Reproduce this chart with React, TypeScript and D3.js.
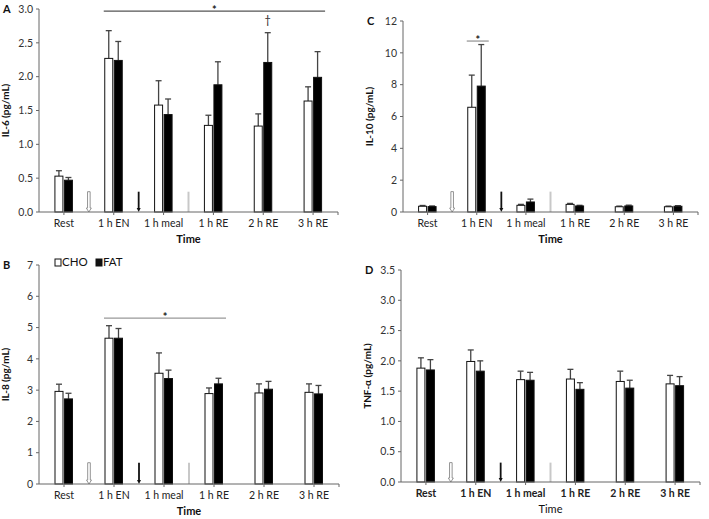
import React from "react";
import * as d3 from "d3";

const categories = ["Rest", "1 h EN", "1 h meal", "1 h RE", "2 h RE", "3 h RE"];

const il6Cho = [0.53, 2.27, 1.58, 1.28, 1.27, 1.64];
const il6ChoErr = [0.08, 0.41, 0.36, 0.15, 0.18, 0.21];
const il6Fat = [0.47, 2.24, 1.44, 1.88, 2.21, 1.99];
const il6FatErr = [0.04, 0.28, 0.23, 0.34, 0.44, 0.38];

const il8Cho = [2.96, 4.66, 3.54, 2.89, 2.91, 2.93];
const il8ChoErr = [0.23, 0.4, 0.65, 0.18, 0.29, 0.27];
const il8Fat = [2.72, 4.66, 3.37, 3.2, 3.03, 2.88];
const il8FatErr = [0.18, 0.31, 0.27, 0.18, 0.25, 0.27];

const il10Cho = [0.36, 6.58, 0.42, 0.48, 0.33, 0.33];
const il10ChoErr = [0.05, 2.02, 0.06, 0.06, 0.04, 0.04];
const il10Fat = [0.34, 7.91, 0.63, 0.38, 0.38, 0.36];
const il10FatErr = [0.04, 2.61, 0.18, 0.04, 0.05, 0.04];

const tnfCho = [1.88, 1.99, 1.69, 1.7, 1.66, 1.62];
const tnfChoErr = [0.17, 0.19, 0.14, 0.16, 0.17, 0.14];
const tnfFat = [1.85, 1.83, 1.68, 1.53, 1.55, 1.59];
const tnfFatErr = [0.17, 0.17, 0.13, 0.11, 0.13, 0.15];

const ticksA = [0, 0.5, 1, 1.5, 2, 2.5, 3];
const ticksB = [0, 1, 2, 3, 4, 5, 6, 7];
const ticksC = [0, 2, 4, 6, 8, 10, 12];
const ticksD = [0, 0.5, 1, 1.5, 2, 2.5, 3, 3.5];

const arrowKinds = ["white", "black", "gray"];
const arrowHeightA = 0.3;
const arrowHeightB = 0.68;
const arrowHeightC = 1.28;
const arrowHeightD = 0.32;

const FONT = "Lato, 'Open Sans', sans-serif";

type Sig = { from: number; to: number; value: number; color: string; label: string };

type PanelProps = {
  letter: string;
  left: number;
  right: number;
  top: number;
  bottom: number;
  ticks: number[];
  fmt: (v: number) => string;
  yTitle: string;
  cho: number[];
  choErr: number[];
  fat: number[];
  fatErr: number[];
  arrowH: number;
  boldX?: boolean;
  boldTime?: boolean;
  sig?: Sig;
  dagger?: { idx: number; value: number };
  legend?: boolean;
};

function Panel(p: PanelProps) {
  const yMax = p.ticks[p.ticks.length - 1];
  const y = d3.scaleLinear().domain([0, yMax]).range([p.bottom, p.top]);
  const x = d3.scaleBand<string>().domain(categories).range([p.left, p.right]);
  const bw = x.bandwidth();
  const center = (c: string) => (x(c) as number) + bw / 2;
  const barW = 8;
  const axisColor = "#666";
  const errColor = "#444";
  const midY = (p.top + p.bottom) / 2;

  const bars: React.ReactNode[] = [];
  categories.forEach((c, i) => {
    const cx = center(c);
    const series = [
      { v: p.cho[i], e: p.choErr[i], fill: "#fff", x0: cx - barW - 1 },
      { v: p.fat[i], e: p.fatErr[i], fill: "#000", x0: cx + 0.5 },
    ];
    series.forEach((s, j) => {
      const bx = s.x0 + barW / 2;
      bars.push(
        <g key={`${c}-${j}`}>
          <line x1={bx} x2={bx} y1={y(s.v)} y2={y(s.v + s.e)} stroke={errColor} strokeWidth={1.3} />
          <line x1={bx - 3} x2={bx + 3} y1={y(s.v + s.e)} y2={y(s.v + s.e)} stroke={errColor} strokeWidth={1.3} />
          <rect x={s.x0} y={y(s.v)} width={barW} height={y(0) - y(s.v)} fill={s.fill} stroke="#111" strokeWidth={1} />
        </g>
      );
    });
  });

  const arrows = arrowKinds.map((k, i) => {
    const ax = x(categories[i + 1]) as number;
    const yt = y(p.arrowH);
    const yb = y(0);
    if (k === "white") {
      return (
        <path
          key={k}
          d={`M${ax - 1.3},${yt} L${ax + 1.3},${yt} L${ax + 1.3},${yb - 4} L${ax + 2.5},${yb - 4} L${ax},${yb} L${ax - 2.5},${yb - 4} L${ax - 1.3},${yb - 4} Z`}
          fill="#fff"
          stroke="#888"
          strokeWidth={0.9}
        />
      );
    }
    if (k === "black") {
      return (
        <g key={k}>
          <line x1={ax} x2={ax} y1={yt} y2={yb - 3} stroke="#111" strokeWidth={1.8} />
          <path d={`M${ax - 2},${yb - 4} L${ax + 2},${yb - 4} L${ax},${yb} Z`} fill="#111" />
        </g>
      );
    }
    return <line key={k} x1={ax} x2={ax} y1={yt} y2={yb} stroke="#c8c8c8" strokeWidth={2} />;
  });

  const sigX1 = p.sig ? center(categories[p.sig.from]) - 10 : 0;
  const sigX2 = p.sig ? center(categories[p.sig.to]) + 12 : 0;

  return (
    <g fontFamily={FONT}>
      <text x={p.left - 36} y={p.top + 4} fontSize={11} fontWeight="bold" fill="#111">
        {p.letter}
      </text>
      <line x1={p.left} x2={p.left} y1={p.top} y2={p.bottom} stroke={axisColor} strokeWidth={1} />
      {p.ticks.map((t) => (
        <g key={t}>
          <line x1={p.left - 3} x2={p.left} y1={y(t)} y2={y(t)} stroke={axisColor} />
          <text x={p.left - 6} y={y(t)} dy="0.35em" textAnchor="end" fontSize={10.5} fill="#333">
            {p.fmt(t)}
          </text>
        </g>
      ))}
      <text
        transform={`translate(${p.left - 30},${midY}) rotate(-90)`}
        textAnchor="middle"
        fontSize={10}
        fontWeight="bold"
        fill="#111"
      >
        {p.yTitle}
      </text>
      {bars}
      {arrows}
      <line x1={p.left} x2={p.right} y1={p.bottom} y2={p.bottom} stroke={axisColor} strokeWidth={1} />
      {categories.map((c) => (
        <g key={c}>
          <line x1={center(c)} x2={center(c)} y1={p.bottom} y2={p.bottom + 3} stroke={axisColor} />
          <text
            x={center(c)}
            y={p.bottom + 15}
            textAnchor="middle"
            fontSize={10.5}
            fontWeight={p.boldX ? "bold" : "normal"}
            fill="#222"
          >
            {c}
          </text>
        </g>
      ))}
      <line x1={p.right} x2={p.right} y1={p.bottom} y2={p.bottom + 3} stroke={axisColor} />
      <text
        x={(p.left + p.right) / 2}
        y={p.bottom + 31}
        textAnchor="middle"
        fontSize={11}
        fontWeight={p.boldTime ? "bold" : "normal"}
        fill="#111"
      >
        Time
      </text>
      {p.sig && (
        <g>
          <line
            x1={sigX1}
            x2={sigX2}
            y1={y(p.sig.value)}
            y2={y(p.sig.value)}
            stroke={p.sig.color}
            strokeWidth={1.3}
          />
          <text
            x={(sigX1 + sigX2) / 2}
            y={y(p.sig.value) + 3}
            textAnchor="middle"
            fontSize={11}
            fontWeight="bold"
            fill="#222"
          >
            {p.sig.label}
          </text>
        </g>
      )}
      {p.dagger && (
        <text
          x={center(categories[p.dagger.idx]) + 4.5}
          y={y(p.dagger.value)}
          textAnchor="middle"
          fontSize={11}
          fill="#222"
        >
          †
        </text>
      )}
      {p.legend && (
        <g fontSize={11.5} fill="#111">
          <rect x={p.left + 16} y={p.top - 6} width={6} height={7} fill="#fff" stroke="#111" />
          <text x={p.left + 23} y={p.top + 1}>CHO</text>
          <rect x={p.left + 57} y={p.top - 6} width={6} height={7} fill="#111" stroke="#111" />
          <text x={p.left + 64} y={p.top + 1}>FAT</text>
        </g>
      )}
    </g>
  );
}

export default function App() {
  const f1 = (v: number) => v.toFixed(1);
  const f0 = (v: number) => v.toFixed(0);
  return (
    <svg
      width={709}
      height={519}
      style={{ position: "absolute", left: 0, top: 0, background: "#fff" }}
    >
      <rect width={709} height={519} fill="#fff" />
      <Panel
        letter="A"
        left={39}
        right={338}
        top={9}
        bottom={212}
        ticks={ticksA}
        fmt={f1}
        yTitle="IL-6 (pg/mL)"
        cho={il6Cho}
        choErr={il6ChoErr}
        fat={il6Fat}
        fatErr={il6FatErr}
        arrowH={arrowHeightA}
        boldTime
        sig={{ from: 1, to: 5, value: 2.97, color: "#555", label: "*" }}
        dagger={{ idx: 4, value: 2.78 }}
      />
      <Panel
        letter="B"
        left={39}
        right={339}
        top={265}
        bottom={484}
        ticks={ticksB}
        fmt={f0}
        yTitle="IL-8 (pg/mL)"
        cho={il8Cho}
        choErr={il8ChoErr}
        fat={il8Fat}
        fatErr={il8FatErr}
        arrowH={arrowHeightB}
        boldTime
        sig={{ from: 1, to: 3, value: 5.3, color: "#999", label: "*" }}
        legend
      />
      <Panel
        letter="C"
        left={403}
        right={698}
        top={21}
        bottom={212}
        ticks={ticksC}
        fmt={f0}
        yTitle="IL-10 (pg/mL)"
        cho={il10Cho}
        choErr={il10ChoErr}
        fat={il10Fat}
        fatErr={il10FatErr}
        arrowH={arrowHeightC}
        boldTime
        sig={{ from: 1, to: 1, value: 10.74, color: "#999", label: "*" }}
      />
      <Panel
        letter="D"
        left={401}
        right={700}
        top={270}
        bottom={482}
        ticks={ticksD}
        fmt={f1}
        yTitle="TNF-α (pg/mL)"
        cho={tnfCho}
        choErr={tnfChoErr}
        fat={tnfFat}
        fatErr={tnfFatErr}
        arrowH={arrowHeightD}
        boldX
      />
    </svg>
  );
}
